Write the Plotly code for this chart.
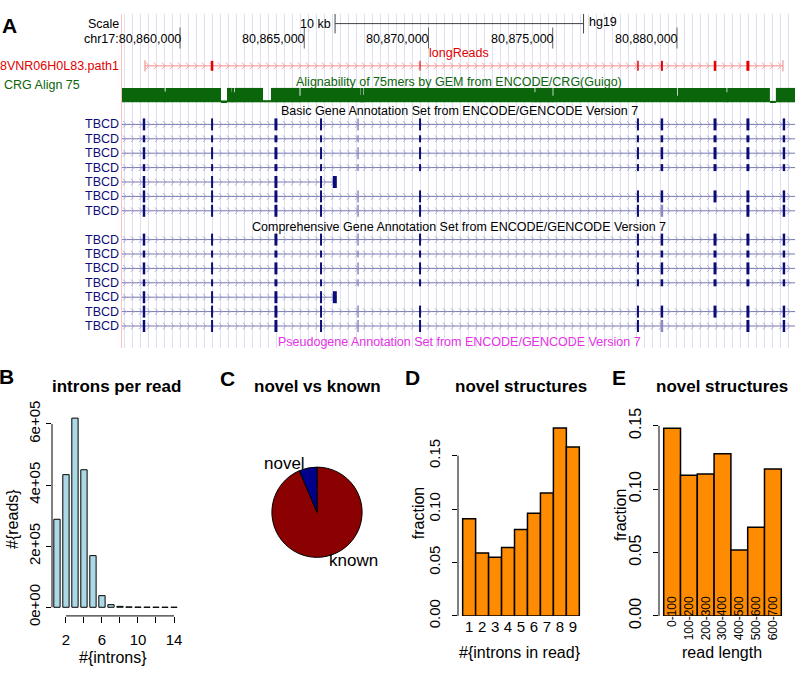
import numpy as np
import plotly.graph_objects as go

W, H = 797, 675
FONT = "Liberation Sans, Arial, Helvetica, sans-serif"

# ---------------- panel A: genome browser, chr17 (hg19) ----------------
view = [80857665, 80884750]
coord_ticks = [80860000, 80865000, 80870000, 80875000, 80880000]
coord_text = ["chr17:80,860,000", "80,865,000", "80,870,000", "80,875,000", "80,880,000"]
scale_bar = [80866240, 80876240]          # 10 kb

read_span = [80858590, 80884265]
read_exon_start = [80861240, 80869640, 80878400, 80879355, 80881480, 80882795]
read_exon_end = [80861340, 80869680, 80878460, 80879435, 80881580, 80882915]

# alignability of 75mers: regions where the signal drops below 1
dip_start = [80859380, 80861650, 80862080, 80862170, 80863340, 80864810, 80867270,
             80867355, 80874270, 80874995, 80880005, 80881995, 80883740]
dip_end = [80859420, 80861890, 80862110, 80862200, 80863660, 80864850, 80867300,
           80867385, 80874300, 80875025, 80880035, 80882025, 80883980]
dip_value = [0.75, 0.13, 0.7, 0.7, 0.15, 0.45, 0.5, 0.5, 0.7, 0.45, 0.45, 0.7, 0.1]

tbcd_exon_start = [80858500, 80861250, 80863800, 80865635, 80867135, 80869620,
                   80878390, 80879345, 80881470, 80882795, 80884255]
tbcd_exon_end = [80858600, 80861330, 80863920, 80865715, 80867195, 80869700,
                 80878470, 80879445, 80881590, 80882915, 80884355]
short_last_exon = [80866150, 80866310]
# exons used by the 7 TBCD transcripts (same in basic and comprehensive sets)
transcripts = [list(range(11)), list(range(11)), list(range(11)), list(range(11)),
               [0, 1, 2, 3], list(range(11)), [0, 1, 2, 3, 4, 5, 6, 7, 9, 10]]
noncoding = [False, True, False, True, False, False, False]
pale_exons = [(r, 4) for r in range(7)] + [(6, 7)]

# ---------------- panel B: introns per read ----------------
n_introns = list(range(1, 15))
n_reads = [288000, 434000, 619000, 450000, 169000, 38000, 8500, 3000, 1200, 600, 300, 150, 80, 40]

# ---------------- panel C: novel vs known ----------------
pie_labels = ["known", "novel"]
pie_values = [0.936, 0.064]

# ---------------- panel D: novel structures by #introns ----------------
d_labels = ["1", "2", "3", "4", "5", "6", "7", "8", "9"]
d_frac = [0.091, 0.059, 0.055, 0.064, 0.081, 0.096, 0.115, 0.176, 0.158]

# ---------------- panel E: novel structures by read length ----------------
e_labels = ["0-100", "100-200", "200-300", "300-400", "400-500", "500-600", "600-700"]
e_frac = [0.148, 0.111, 0.112, 0.128, 0.052, 0.070, 0.116]


def chevrons(x0, x1, y, step=322, dx=120, dy=3.5):
    xs, ys = [], []
    for c in np.arange(x0 + step / 2, x1, step):
        xs += [c - dx, c, c - dx, None]
        ys += [y - dy, y, y + dy, None]
    return xs, ys


def segs(starts, ends, y):
    xs, ys = [], []
    for s, e in zip(starts, ends):
        xs += [s, e, None]
        ys += [y, y, None]
    return xs, ys


fig = go.Figure()

# alignability bars
ax0, ax1, av = [], [], []
pos = view[0]
for s, e, v in sorted(zip(dip_start, dip_end, dip_value)):
    ax0 += [pos, s]
    ax1 += [s, e]
    av += [1.0, v]
    pos = e
ax0.append(pos)
ax1.append(view[1])
av.append(1.0)
fig.add_trace(go.Bar(x=[(a + b) / 2 for a, b in zip(ax0, ax1)], width=[b - a for a, b in zip(ax0, ax1)],
                     y=[-15 * v for v in av], base=92, marker=dict(color="#0b650b", line=dict(width=0)),
                     xaxis="x", yaxis="y", hoverinfo="skip"))

# long read
cx, cy = chevrons(read_span[0], read_span[1], 54)
fig.add_trace(go.Scatter(x=read_span, y=[54, 54], mode="lines", line=dict(color="#f08a8a", width=1),
                         xaxis="x", yaxis="y"))
fig.add_trace(go.Scatter(x=cx, y=cy, mode="lines", line=dict(color="#f4a4a4", width=1), xaxis="x", yaxis="y"))
fig.add_trace(go.Scatter(x=read_span, y=[54, 54], mode="markers",
                         marker=dict(symbol="line-ns", size=8, color="#f08080", line=dict(width=1, color="#f08080")),
                         xaxis="x", yaxis="y"))
ex_x, ex_y = segs(read_exon_start, read_exon_end, 54)
fig.add_trace(go.Scatter(x=ex_x, y=ex_y, mode="lines", line=dict(color="#e60000", width=10), xaxis="x", yaxis="y"))

# TBCD transcripts
ix, iy, chx, chy = [], [], [], []
groups = {}
for top in (115, 235):
    for r, exons in enumerate(transcripts):
        y = top + 15 * r
        end = view[1] if 10 in exons else short_last_exon[1]
        ix += [view[0], end, None]
        iy += [y, y, None]
        a, b = chevrons(view[0], end, y)
        chx += a
        chy += b
        tall = not noncoding[r]
        items = [(tbcd_exon_start[k], tbcd_exon_end[k], (r, k) in pale_exons) for k in exons]
        if end != view[1]:
            items.append((short_last_exon[0], short_last_exon[1], False))
        for s, e, pale in items:
            key = ("#8a8abf" if pale else "#0c0c78", 12 if tall else 7)
            gx, gy = groups.setdefault(key, ([], []))
            gx += [s, e, None]
            gy += [y, y, None]

fig.add_trace(go.Scatter(x=ix, y=iy, mode="lines", line=dict(color="#7676b0", width=1), xaxis="x", yaxis="y"))
fig.add_trace(go.Scatter(x=chx, y=chy, mode="lines", line=dict(color="#ababd6", width=1), xaxis="x", yaxis="y"))
for (col, wdt), (gx, gy) in groups.items():
    fig.add_trace(go.Scatter(x=gx, y=gy, mode="lines", line=dict(color=col, width=wdt), xaxis="x", yaxis="y"))

# coordinate ticks and scale bar
fig.add_trace(go.Scatter(x=coord_ticks, y=[25] * len(coord_ticks), mode="markers",
                         marker=dict(symbol="line-ns", size=15, color="#666", line=dict(width=1, color="#666")),
                         xaxis="x", yaxis="y"))
fig.add_trace(go.Scatter(x=scale_bar, y=[10, 10], mode="lines+markers", line=dict(color="#444", width=1),
                         marker=dict(symbol="line-ns", size=14, color="#444", line=dict(width=1, color="#444")),
                         xaxis="x", yaxis="y"))

# panel B
fig.add_trace(go.Bar(x=n_introns, y=n_reads, width=0.7, marker=dict(color="#add8e6", line=dict(color="black", width=1)),
                     xaxis="x2", yaxis="y2"))

# panel C
fig.add_trace(go.Pie(labels=pie_labels, values=pie_values, sort=False, direction="clockwise", rotation=0,
                     textinfo="none", marker=dict(colors=["#8b0000", "#00008b"], line=dict(color="black", width=1)),
                     domain=dict(x=[270 / W, 364 / W], y=[1 - 566 / H, 1 - 472 / H])))

# panel D
fig.add_trace(go.Bar(x=list(range(1, len(d_frac) + 1)), y=d_frac, width=1,
                     marker=dict(color="#ff8c00", line=dict(color="black", width=1.5)), xaxis="x3", yaxis="y3"))

# panel E
fig.add_trace(go.Bar(x=list(range(1, len(e_frac) + 1)), y=e_frac, width=1,
                     marker=dict(color="#ff8c00", line=dict(color="black", width=1.5)), xaxis="x4", yaxis="y4"))
fig.add_trace(go.Scatter(x=list(range(1, len(e_frac) + 1)), y=[0] * len(e_frac), mode="markers",
                         marker=dict(opacity=0), xaxis="x5", yaxis="y4", hoverinfo="skip"))

# ---------------- annotations ----------------
ann = []


def label(text, x, y, size=12.5, color="black", xanchor="center", bold=False, angle=0, xref="paper"):
    ann.append(dict(text=f"<b>{text}</b>" if bold else text, x=x / W if xref == "paper" else x,
                    y=1 - y / H, xref=xref, yref="paper", xanchor=xanchor, yanchor="middle",
                    showarrow=False, textangle=angle, font=dict(family=FONT, size=size, color=color)))


label("Scale", 121, 10, xanchor="right")
label("10 kb", 333, 10, xanchor="right")
label("hg19", 587, 8, xanchor="left")
for t, s in zip(coord_ticks, coord_text):
    label(s, t + 120, 26, xanchor="right", xref="x")
label("longReads", 459, 41, color="#e00000")
label("8VNR06H0L83.path1", 121, 54, color="#e00000", xanchor="right")
label("CRG Align 75", 2, 74, color="#0b650b", xanchor="left")
label("Alignability of 75mers by GEM from ENCODE/CRG(Guigo)", 459, 71, color="#0b650b")
label("Basic Gene Annotation Set from ENCODE/GENCODE Version 7", 459, 101)
label("Comprehensive Gene Annotation Set from ENCODE/GENCODE Version 7", 459, 222)
label("Pseudogene Annotation Set from ENCODE/GENCODE Version 7", 459, 342, color="#e632e6")
for top in (115, 235):
    for r in range(len(transcripts)):
        label("TBCD", 121, top + 15 * r, color="#0c0c78", xanchor="right")

for letter, x, y in (("A", 9, 12), ("B", 6, 378), ("C", 227, 380), ("D", 412, 379), ("E", 619, 379)):
    label(letter, x, y, size=21, bold=True)
for t, x in (("introns per read", 117), ("novel vs known", 317), ("novel structures", 521), ("novel structures", 722)):
    label(t, x, 388, size=17, bold=True)
label("#{reads}", 13, 526, size=16, angle=-90)
label("#{introns}", 113, 670, size=16)
label("fraction", 418, 520, size=16, angle=-90)
label("#{introns in read}", 520, 665, size=16)
label("fraction", 620, 522, size=16, angle=-90)
label("read length", 722, 665, size=16)

# pie labels, placed like R's pie(): at 1.1 radius on each slice's mid angle
cum = 0.0
tot = sum(pie_values)
for lab, v in zip(pie_labels, pie_values):
    th = 2 * np.pi * (cum + v / 2) / tot
    cum += v
    lx = 317 + 1.1 * 47 * np.sin(th)
    ly = 519 - 1.1 * 47 * np.cos(th)
    label(lab, lx, ly, size=17, xanchor="left" if np.sin(th) > 0 else "right")

# axis lines spanning only the tick range (R style)
shape_line = dict(color="black", width=1)
shapes = [
    dict(type="line", xref="x2", yref="y2 domain", x0=2, x1=14, y0=0, y1=0, line=shape_line),
    dict(type="line", xref="x2 domain", yref="y2", x0=0, x1=0, y0=0, y1=600000, line=shape_line),
    dict(type="line", xref="x3 domain", yref="y3", x0=0, x1=0, y0=0, y1=0.15, line=shape_line),
    dict(type="line", xref="x4 domain", yref="y4", x0=0, x1=0, y0=0, y1=0.15, line=shape_line),
]

tickfont = dict(family=FONT, size=15, color="black")
plain = dict(showgrid=False, zeroline=False, showline=False)

fig.update_layout(
    width=W, height=H, margin=dict(l=0, r=0, t=0, b=0),
    paper_bgcolor="white", plot_bgcolor="rgba(0,0,0,0)",
    showlegend=False, barmode="overlay", font=dict(family=FONT),
    annotations=ann, shapes=shapes,
    xaxis=dict(domain=[122 / W, 795 / W], range=view, showgrid=True, gridcolor="#dfdff3", gridwidth=1,
               tick0=80860000, dtick=322, showticklabels=False, ticks="", zeroline=False, showline=False,
               anchor="y"),
    yaxis=dict(domain=[1 - 348 / H, 1], range=[348, 0], showgrid=False, zeroline=False, showticklabels=False,
               ticks="", showline=True, linecolor="#ffc0c0", linewidth=1, anchor="x"),
    xaxis2=dict(domain=[52 / W, 183 / W], range=[0.45, 15], tickvals=list(range(2, 15, 2)),
                ticktext=["2", "", "6", "", "10", "", "14"], ticks="outside", ticklen=6, tickcolor="black",
                tickfont=tickfont, ticklabelstandoff=4, anchor="y2", **plain),
    yaxis2=dict(domain=[1 - 627 / H, 1 - 415 / H], range=[-28300, 637700], tickvals=[0, 200000, 400000, 600000],
                ticktext=["0e+00", "2e+05", "4e+05", "6e+05"], tickangle=-90, ticks="outside", ticklen=5,
                tickcolor="black", tickfont=tickfont, anchor="x2", **plain),
    xaxis3=dict(domain=[458 / W, 584 / W], range=[0.14, 9.86], tickvals=list(range(1, 10)), ticktext=d_labels,
                ticks="", tickfont=tickfont, anchor="y3", **plain),
    yaxis3=dict(domain=[1 - 627 / H, 1 - 425 / H], range=[0, 0.1815], tickvals=[0, 0.05, 0.10, 0.15],
                ticktext=["0.00", "0.05", "0.10", "0.15"], tickangle=-90, ticks="outside", ticklen=5,
                tickcolor="black", tickfont=tickfont, ticklabelstandoff=6, anchor="x3", **plain),
    xaxis4=dict(domain=[659 / W, 786 / W], range=[0.22, 7.78], showticklabels=False, ticks="", anchor="y4", **plain),
    yaxis4=dict(domain=[1 - 627 / H, 1 - 425 / H], range=[0, 0.153], tickvals=[0, 0.05, 0.10, 0.15],
                ticktext=["0.00", "0.05", "0.10", "0.15"], tickangle=-90, ticks="outside", ticklen=5,
                tickcolor="black", tickfont=dict(family=FONT, size=16, color="black"), ticklabelstandoff=6,
                anchor="x4", **plain),
    xaxis5=dict(overlaying="x4", anchor="free", position=1 - 603 / H, range=[0.22, 7.78],
                tickvals=list(range(1, 8)), ticktext=e_labels, tickangle=-90, ticks="",
                tickfont=dict(family=FONT, size=12, color="black"), **plain),
)

fig.write_html("out.html", config={"displayModeBar": False},
               post_script="document.body.style.margin='0';")
